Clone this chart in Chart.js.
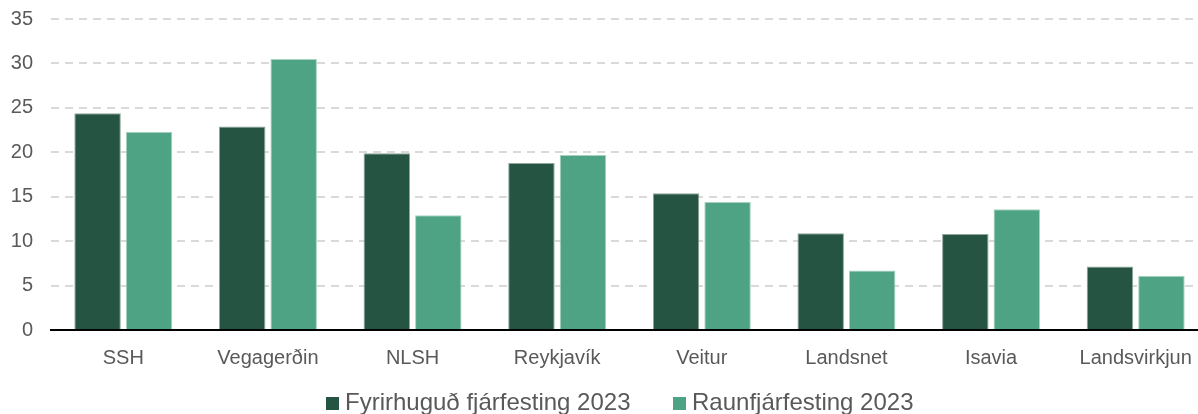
<!DOCTYPE html>
<html>
<head>
<meta charset="utf-8">
<script src="https://cdn.jsdelivr.net/npm/chart.js@4/dist/chart.umd.min.js"></script>
<style>
  html, body { margin: 0; padding: 0; background: #fff; overflow: hidden; }
  #wrap { position: relative; width: 1198px; height: 414px; overflow: hidden; }
  /* plot runs a little past the right edge, like the original */
  #inner { width: 1208px; height: 414px; }
  .legend-item {
    position: absolute; top: 390px; height: 24px;
    font: 24px/24px Arial, "Liberation Sans", sans-serif; color: #595959;
    white-space: nowrap;
  }
  .legend-item i {
    position: absolute; left: 0; top: 7px; width: 13px; height: 13px;
  }
  .legend-item span { position: absolute; left: 19px; top: 0; }
</style>
</head>
<body>
<div id="wrap"><div id="inner"><canvas id="investChart"></canvas></div><div id="legend"></div></div>
<script>
const categories = ['SSH', 'Vegagerðin', 'NLSH', 'Reykjavík', 'Veitur', 'Landsnet', 'Isavia', 'Landsvirkjun'];
const planned = [24.4, 22.9, 19.9, 18.8, 15.4, 10.9, 10.8, 7.15];
const actual = [22.3, 30.5, 12.9, 19.7, 14.4, 6.7, 13.6, 6.1];
const seriesNames = ['Fyrirhuguð fjárfesting 2023', 'Raunfjárfesting 2023'];
const yTicks = [0, 5, 10, 15, 20, 25, 30, 35];

const textColor = '#595959';
const font = 'Arial, "Liberation Sans", sans-serif';

const ctx = document.getElementById('investChart').getContext('2d');
const chart = new Chart(ctx, {
  type: 'bar',
  data: {
    labels: categories,
    datasets: [
      {
        label: seriesNames[0],
        data: planned,
        backgroundColor: '#265442',
        borderColor: '#8fa89c',
        borderWidth: 1,
        categoryPercentage: 0.712,
        barPercentage: 0.903
      },
      {
        label: seriesNames[1],
        data: actual,
        backgroundColor: '#4da383',
        borderColor: '#a8d3c2',
        borderWidth: 1,
        categoryPercentage: 0.712,
        barPercentage: 0.903
      }
    ]
  },
  options: {
    responsive: true,
    maintainAspectRatio: false,
    animation: false,
    layout: { padding: { top: 0, right: 0, left: 0, bottom: 36 } },
    plugins: {
      tooltip: { enabled: false },
      legend: { display: false }
    },
    scales: {
      x: {
        grid: { display: false },
        border: { display: true, color: '#000', width: 2 },
        ticks: { color: textColor, font: { family: font, size: 20 }, padding: 8 }
      },
      y: {
        min: 0,
        max: 35,
        afterBuildTicks: axis => { axis.ticks = yTicks.map(v => ({ value: v })); },
        afterFit: axis => {
          axis.width = 51;
          axis.paddingTop = 19;
        },
        border: { display: false, dash: [8, 6] },
        grid: { color: '#d9d9d9', lineWidth: 2, drawTicks: false },
        ticks: { color: textColor, font: { family: font, size: 20 }, padding: 18 }
      }
    }
  }
});

// html legend built from the chart's own legend items
const legendLeft = [326, 673];
const items = Chart.defaults.plugins.legend.labels.generateLabels(chart);
document.getElementById('legend').innerHTML = items.map((it, i) =>
  `<div class="legend-item" style="left:${legendLeft[i]}px"><i style="background:${it.fillStyle}"></i><span>${it.text}</span></div>`
).join('');
</script>
</body>
</html>
